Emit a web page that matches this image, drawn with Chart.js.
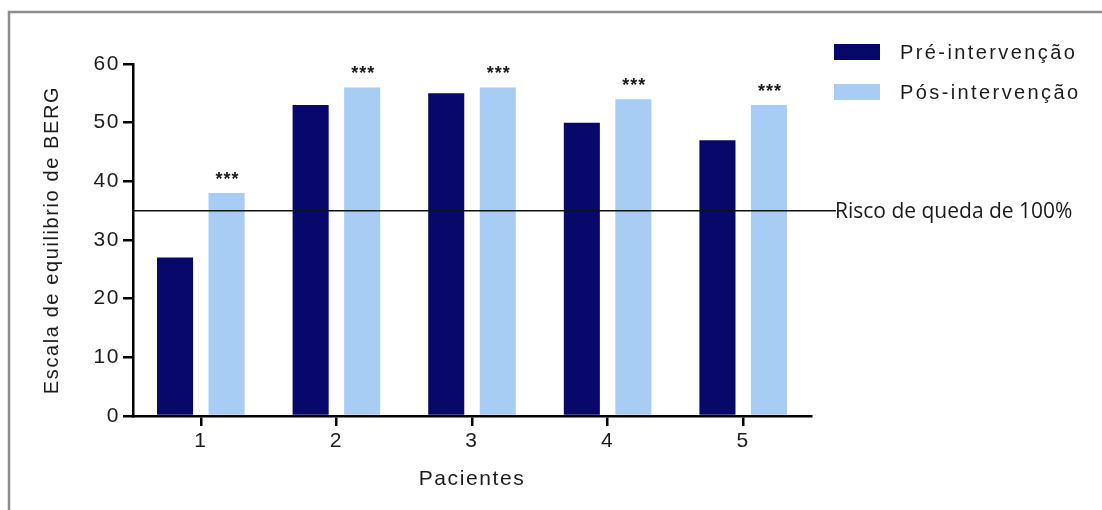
<!DOCTYPE html>
<html>
<head>
<meta charset="utf-8">
<script src="https://cdn.jsdelivr.net/npm/chart.js@4/dist/chart.umd.min.js"></script>
<style>
  html, body { margin: 0; padding: 0; background: #ffffff; }
  #wrap { width: 1102px; height: 510px; position: relative; }
</style>
</head>
<body>
<div id="wrap"><canvas id="chart" width="1102" height="510"></canvas></div>
<script>
// Patients on the category axis
const categories = ['1', '2', '3', '4', '5'];
// Berg balance scores before and after the intervention
const preValues = [27, 53, 55, 50, 47];
const postValues = [38, 56, 56, 54, 53];
const seriesLabels = ['Pré-intervenção', 'Pós-intervenção'];
// Significance markers shown above the post-intervention bars
const significance = ['***', '***', '***', '***', '***'];
// Fall-risk cut-off
const thresholdValue = 35;
const thresholdLabel = 'Risco de queda de 100%';
// Value axis
const yMin = 0, yMax = 60, yStep = 10;
const xTitle = 'Pacientes';
const yTitle = 'Escala de equilibrio de BERG';

const PRE_COLOR = '#08086a';
const POST_COLOR = '#a7cdf4';
const TEXT_COLOR = '#1c1c1c';
const AXIS_W = 2.5;
const SANS = '"Liberation Sans", Arial, sans-serif';

// Page background, frame and text spacing
const framePlugin = {
  id: 'frame',
  beforeDraw(chart) {
    const ctx = chart.ctx;
    ctx.save();
    ctx.fillStyle = '#ffffff';
    ctx.fillRect(0, 0, chart.width, chart.height);
    ctx.strokeStyle = '#8c8c8c';
    ctx.lineWidth = 2.5;
    ctx.strokeRect(9, 12, chart.width + 10, chart.height + 10);
    ctx.restore();
    ctx.letterSpacing = '1.6px';
  }
};

// Cut-off line with its label
const thresholdPlugin = {
  id: 'threshold',
  afterDatasetsDraw(chart) {
    const ctx = chart.ctx;
    const y = chart.scales.y.getPixelForValue(thresholdValue);
    const x0 = chart.chartArea.left;
    const x1 = chart.chartArea.right + 25;
    ctx.save();
    ctx.strokeStyle = '#111111';
    ctx.lineWidth = 1.5;
    ctx.beginPath();
    ctx.moveTo(x0, y);
    ctx.lineTo(x1, y);
    ctx.stroke();
    ctx.letterSpacing = '0px';
    ctx.fillStyle = '#1a1a1a';
    ctx.font = '21px "Open Sans", "Liberation Sans", sans-serif';
    ctx.textAlign = 'left';
    ctx.textBaseline = 'middle';
    ctx.fillText(thresholdLabel, x1 - 1, y + 1);
    ctx.restore();
  }
};

// Significance stars above the post-intervention bars
const starsPlugin = {
  id: 'stars',
  afterDatasetsDraw(chart) {
    const ctx = chart.ctx;
    const meta = chart.getDatasetMeta(1);
    ctx.save();
    ctx.letterSpacing = '1px';
    ctx.fillStyle = '#1a1a1a';
    ctx.font = 'bold 18px ' + SANS;
    ctx.textAlign = 'center';
    ctx.textBaseline = 'alphabetic';
    meta.data.forEach((bar, i) => {
      if (!significance[i]) return;
      ctx.fillText(significance[i], bar.x + 1, bar.y - 8);
    });
    ctx.restore();
  }
};

// Legend drawn beside the plot
const legendPlugin = {
  id: 'sideLegend',
  afterDraw(chart) {
    const ctx = chart.ctx;
    const x = chart.chartArea.right + 23;
    const rows = [52, 92];
    ctx.save();
    ctx.letterSpacing = '2.4px';
    ctx.font = '20px ' + SANS;
    ctx.textBaseline = 'middle';
    ctx.textAlign = 'left';
    chart.data.datasets.forEach((ds, i) => {
      const cy = rows[i];
      ctx.fillStyle = ds.backgroundColor;
      ctx.fillRect(x, cy - 8, 46, 16);
      ctx.fillStyle = TEXT_COLOR;
      ctx.fillText(ds.label, x + 66, cy + 1);
    });
    ctx.restore();
  }
};

new Chart(document.getElementById('chart'), {
  type: 'bar',
  data: {
    labels: categories,
    datasets: [
      { label: seriesLabels[0], data: preValues, backgroundColor: PRE_COLOR, borderWidth: 0 },
      { label: seriesLabels[1], data: postValues, backgroundColor: POST_COLOR, borderWidth: 0 }
    ]
  },
  options: {
    responsive: false,
    animation: false,
    devicePixelRatio: 1,
    layout: { padding: { left: 40, right: 291, top: 64, bottom: 18 } },
    datasets: { bar: { categoryPercentage: 0.76, barPercentage: 0.70 } },
    plugins: {
      legend: { display: false },
      tooltip: { enabled: false }
    },
    scales: {
      x: {
        offset: true,
        afterFit(scale) { scale.height = 76; },
        grid: {
          offset: false,
          drawOnChartArea: false,
          drawTicks: true,
          tickLength: 10,
          color: '#000000',
          lineWidth: AXIS_W
        },
        border: { display: true, color: '#000000', width: AXIS_W },
        ticks: {
          color: TEXT_COLOR,
          padding: 3,
          font: { family: SANS, size: 21 }
        },
        title: {
          display: true,
          text: xTitle,
          color: TEXT_COLOR,
          padding: 0,
          font: { family: SANS, size: 21 }
        }
      },
      y: {
        min: yMin,
        max: yMax,
        afterFit(scale) { scale.width = 93; },
        grid: {
          drawOnChartArea: false,
          drawTicks: true,
          tickLength: 10,
          color: '#000000',
          lineWidth: AXIS_W
        },
        border: { display: true, color: '#000000', width: AXIS_W },
        ticks: {
          stepSize: yStep,
          color: TEXT_COLOR,
          padding: 3,
          font: { family: SANS, size: 21 }
        },
        title: {
          display: true,
          text: yTitle,
          color: TEXT_COLOR,
          padding: 0,
          font: { family: SANS, size: 20 }
        }
      }
    }
  },
  plugins: [framePlugin, thresholdPlugin, starsPlugin, legendPlugin]
});
</script>
</body>
</html>
